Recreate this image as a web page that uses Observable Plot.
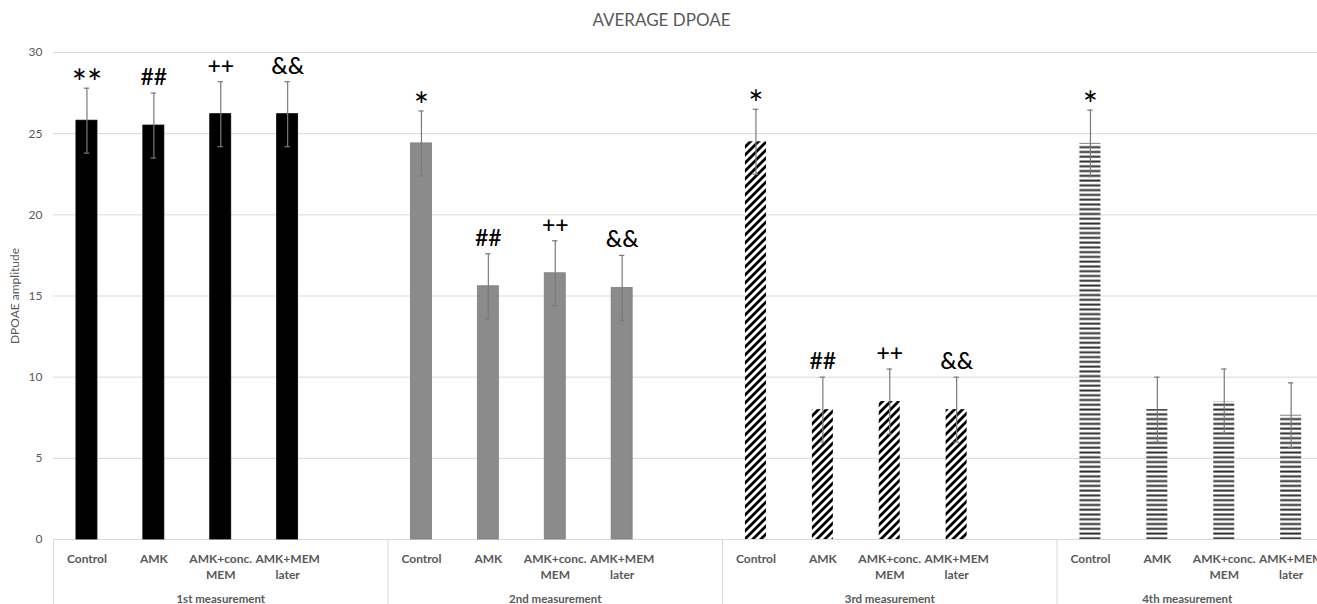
<!DOCTYPE html>
<html>
<head>
<meta charset="utf-8">
<script src="https://cdn.jsdelivr.net/npm/d3@7"></script>
<script src="https://cdn.jsdelivr.net/npm/@observablehq/plot@0.6"></script>
<style>
  html, body { margin: 0; padding: 0; background: #fff; overflow: hidden; }
  #title { height: 36px; box-sizing: border-box; padding-top: 4px; line-height: 32px; text-align: center;
           font-family: Lato, sans-serif; font-size: 17px; color: #595959; padding-left: 6px; }
</style>
</head>
<body>
<div id="title">AVERAGE DPOAE</div>
<div id="chart"></div>
<script>
// ---- data ----
const groups = ["1st measurement", "2nd measurement", "3rd measurement", "4th measurement"];
const categories = ["Control", "AMK", "AMK+conc.\nMEM", "AMK+MEM\nlater"];
const mean1st = [25.8, 25.5, 26.2, 26.2];
const mean2nd = [24.4, 15.6, 16.4, 15.5];
const mean3rd = [24.5, 8.0, 8.5, 8.0];
const mean4th = [24.4, 8.0, 8.5, 7.65];
const err1st = [2.0, 2.0, 2.0, 2.0];
const err2nd = [2.0, 2.0, 2.0, 2.0];
const err3rd = [2.0, 2.0, 2.0, 2.0];
const err4th = [2.05, 2.0, 2.0, 2.0];
const sig1st = ["**", "##", "++", "&&"];
const sig2nd = ["*", "##", "++", "&&"];
const sig3rd = ["*", "##", "++", "&&"];
const sig4th = ["*", "", "", ""];
const yTicks = [0, 5, 10, 15, 20, 25, 30];

const means = [mean1st, mean2nd, mean3rd, mean4th];
const errs = [err1st, err2nd, err3rd, err4th];
const sigs = [sig1st, sig2nd, sig3rd, sig4th];
const slotsPerGroup = categories.length + 1;

const rows = [];
groups.forEach((g, gi) => categories.forEach((c, ci) => {
  rows.push({group: g, gi, category: c, slot: gi * slotsPerGroup + ci,
             mean: means[gi][ci], err: errs[gi][ci], sig: sigs[gi][ci]});
}));

// ---- layout ----
const W = 1317, H = 568, ML = 53, MT = 16, MB = 65;
const step = 66.9;
const nSlots = groups.length * slotsPerGroup;
const visibleEnd = (W - ML) / step;
const groupLabels = groups.map((g, gi) => {
  const s = gi * slotsPerGroup, e = Math.min(s + slotsPerGroup, visibleEnd);
  return {group: g, center: (s + e) / 2};
});
const fills = ["#000000", "#8b8b8b", "url(#diag)", "url(#horiz)"];
const strokes = ["#000000", "#7d7d7d", "none", "none"];

const barMarks = groups.map((g, gi) => Plot.rectY(rows.filter(d => d.gi === gi), {
  x1: d => d.slot + 0.343, x2: d => d.slot + 0.657, y: "mean",
  fill: fills[gi], stroke: strokes[gi], strokeWidth: 0.8
}));

const svg = Plot.plot({
  width: W, height: H,
  marginLeft: ML, marginRight: 0, marginTop: MT, marginBottom: MB,
  style: {fontFamily: "Lato, sans-serif", background: "#fff", overflow: "hidden"},
  x: {type: "linear", domain: [0, nSlots], range: [ML, ML + nSlots * step], axis: null},
  y: {domain: [0, 30], axis: null},
  marks: [
    Plot.ruleY(yTicks, {stroke: "#d9d9d9", strokeWidth: 1}),
    Plot.ruleX(groups.map((g, gi) => gi * slotsPerGroup), {y1: 0, y2: -4.2, stroke: "#d9d9d9", strokeWidth: 1}),
    ...barMarks,
    Plot.ruleX(rows, {x: d => d.slot + 0.5, y1: d => d.mean - d.err, y2: d => d.mean + d.err, stroke: "#7a7a7a", strokeWidth: 1.2}),
    Plot.ruleY(rows, {y: d => d.mean + d.err, x1: d => d.slot + 0.46, x2: d => d.slot + 0.54, stroke: "#7a7a7a", strokeWidth: 1.2}),
    Plot.ruleY(rows, {y: d => d.mean - d.err, x1: d => d.slot + 0.46, x2: d => d.slot + 0.54, stroke: "#7a7a7a", strokeWidth: 1.2}),
    Plot.text(rows.filter(d => d.sig && d.sig[0] === "*"), {
      x: d => d.slot + 0.5, y: d => d.mean + d.err, text: "sig",
      lineAnchor: "bottom", dy: 8, fontSize: 36, fill: "#000"
    }),
    Plot.text(rows.filter(d => d.sig && d.sig[0] !== "*"), {
      x: d => d.slot + 0.5, y: d => d.mean + d.err, text: "sig",
      lineAnchor: "bottom", dy: -8, fontSize: 23, fill: "#000", fontWeight: 500
    }),
    Plot.text(rows, {
      x: d => d.slot + 0.5, y: 0, text: "category", lineAnchor: "top", dy: 12,
      fontSize: 12, fontWeight: "bold", fill: "#595959", lineHeight: 1.33
    }),
    Plot.text(groupLabels, {
      x: "center", y: 0, text: "group", lineAnchor: "bottom", dy: 63,
      fontSize: 11.5, fontWeight: "bold", fill: "#595959"
    }),
    Plot.axisY({ticks: yTicks, tickSize: 0, tickPadding: 11, fontSize: 12, color: "#595959",
      label: "DPOAE amplitude", labelAnchor: "center", labelOffset: 43, labelArrow: "none"})
  ]
});

// patterns for hatched bars
const defs = d3.select(svg).insert("defs", ":first-child");
const diag = defs.append("pattern").attr("id", "diag").attr("patternUnits", "userSpaceOnUse")
  .attr("width", 8).attr("height", 8);
diag.append("rect").attr("width", 8).attr("height", 8).attr("fill", "#fff");
diag.append("path").attr("d", "M0,8 L8,0 M-2,2 L2,-2 M6,10 L10,6")
  .attr("stroke", "#000").attr("stroke-width", 2.8);
const horiz = defs.append("pattern").attr("id", "horiz").attr("patternUnits", "userSpaceOnUse")
  .attr("width", 8).attr("height", 4.77);
horiz.append("rect").attr("width", 8).attr("height", 4.77).attr("fill", "#fff");
horiz.append("rect").attr("y", 0.5).attr("width", 8).attr("height", 2).attr("fill", "#2e2e2e");

document.getElementById("chart").appendChild(svg);
</script>
</body>
</html>
